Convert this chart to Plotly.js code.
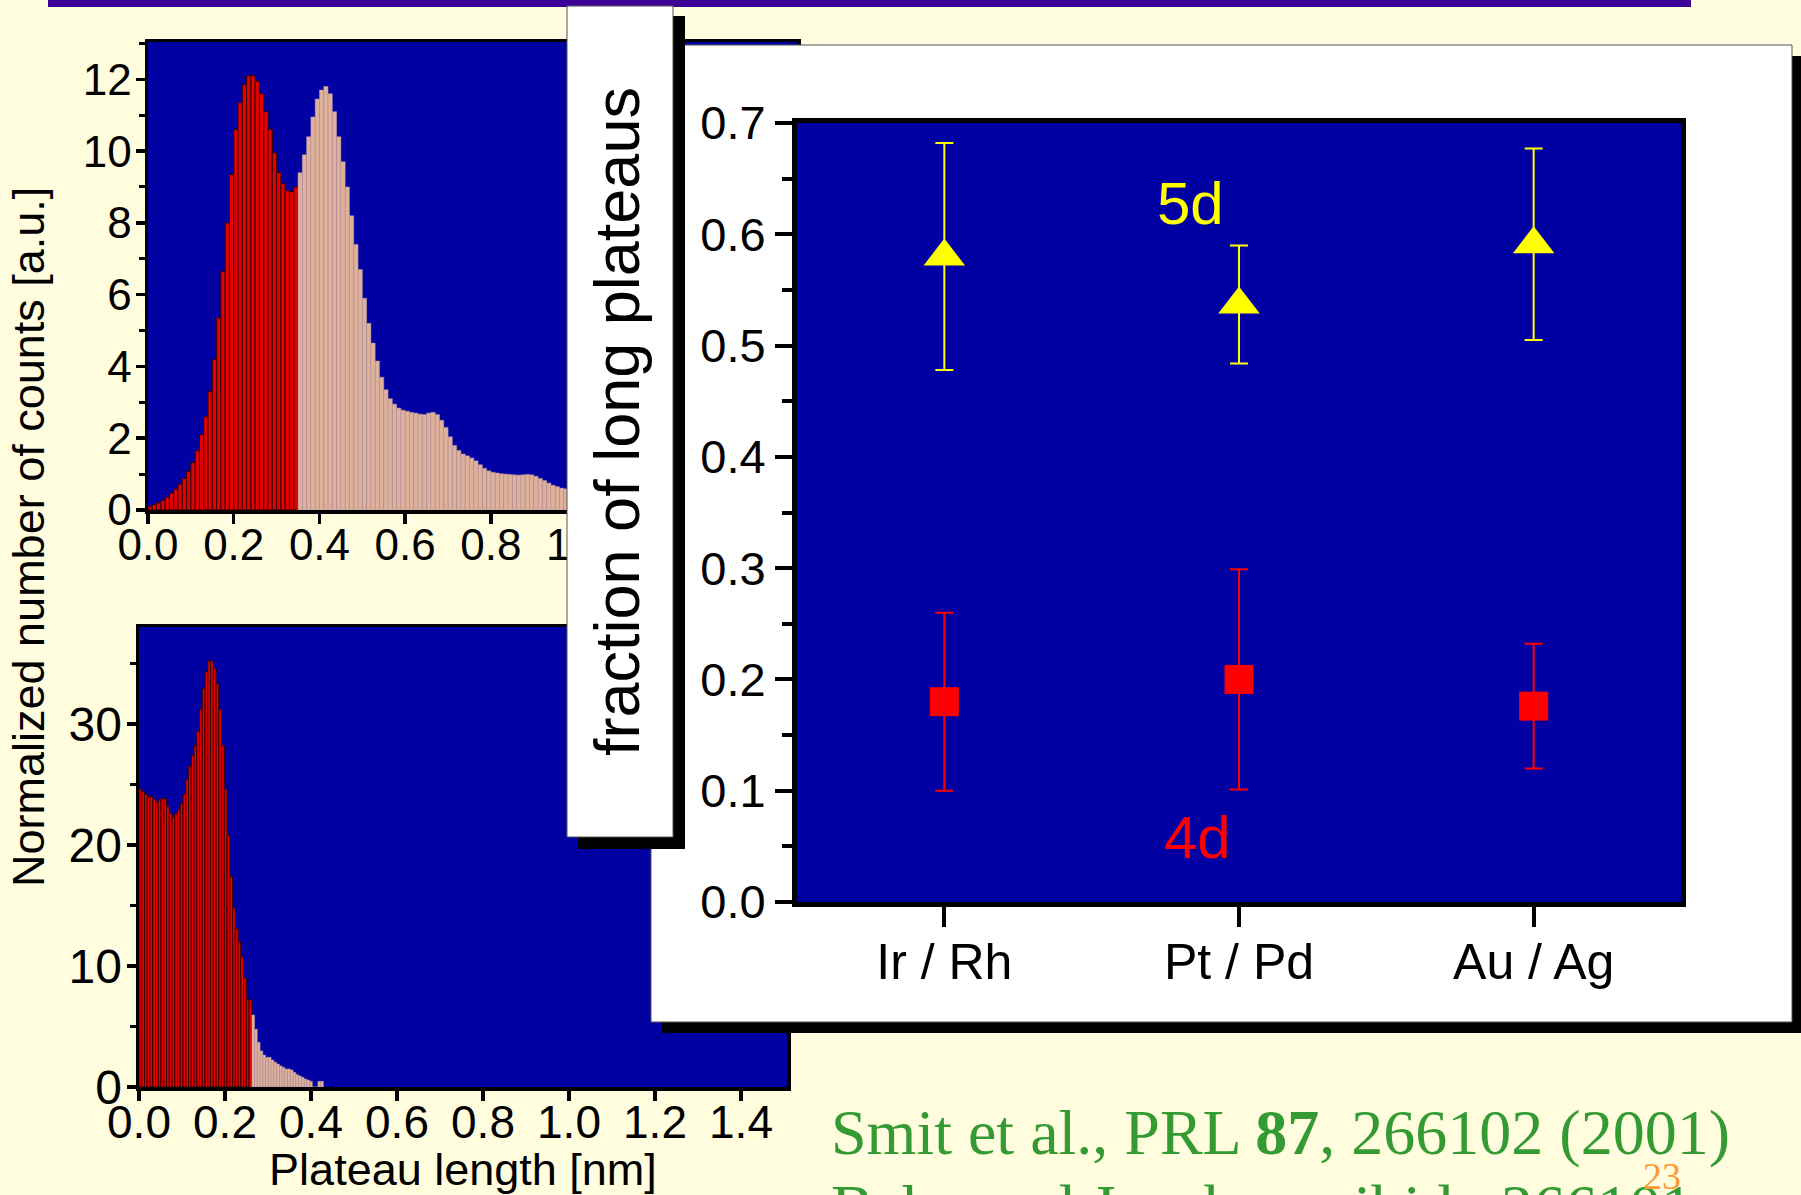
<!DOCTYPE html>
<html>
<head>
<meta charset="utf-8">
<script src="https://cdn.plot.ly/plotly-3.0.1.min.js"></script>
<style>
  html, body { margin: 0; padding: 0; background: #FFFDDE; }
  #wrap { position: relative; width: 1801px; height: 1195px; overflow: hidden; background: #FFFDDE; }
  .layer { position: absolute; left: 0; top: 0; width: 1801px; height: 1195px; }
</style>
</head>
<body>
<div id="wrap">
  <div id="hist" class="layer"></div>
  <div id="frac" class="layer"></div>
</div>
<script>
// ---------- plateau-length histograms ----------
// upper panel: 5d metal, bins of 0.01 nm starting at 0
const topBinWidth = 0.01;
const topShort = [0.1, 0.15, 0.2, 0.27, 0.36, 0.47, 0.58, 0.72, 0.88, 1.08,
  1.32, 1.65, 2.1, 2.6, 3.3, 4.2, 5.35, 6.65, 8.0, 9.35,
  10.6, 11.35, 11.85, 12.1, 12.1, 11.95, 11.6, 11.1, 10.6, 9.95,
  9.4, 9.1, 8.9, 8.87, 9.0];
const topLong = [9.4, 9.9, 10.4, 10.95, 11.45, 11.7, 11.8, 11.6, 11.1, 10.4,
  9.7, 9.0, 8.2, 7.4, 6.7, 5.9, 5.2, 4.65, 4.15, 3.7,
  3.35, 3.1, 2.95, 2.84, 2.78, 2.75, 2.72, 2.7, 2.67, 2.66,
  2.7, 2.72, 2.66, 2.5, 2.3, 2.04, 1.8, 1.66, 1.56, 1.51,
  1.45, 1.37, 1.26, 1.16, 1.09, 1.05, 1.03, 1.01, 1.0, 0.99,
  0.98, 0.97, 0.98, 0.99, 0.98, 0.94, 0.88, 0.82, 0.75, 0.69,
  0.65, 0.61, 0.59, 0.57, 0.55];

// lower panel: 4d metal, bins of 0.0064 nm starting at 0
const botBinWidth = 0.0064;
const botShort = [24.6, 24.4, 24.2, 24.0, 24.0, 23.8, 23.55, 23.7, 23.86, 23.8,
  23.2, 22.6, 22.3, 22.6, 22.9, 23.4, 24.2, 25.4, 26.5, 27.4,
  28.2, 29.4, 31.2, 32.9, 34.3, 35.2, 35.2, 34.6, 33.3, 31.2,
  28.2, 24.6, 20.8, 17.4, 14.8, 13.1, 12.0, 10.8, 9.0, 7.2,
  7.2];
const botLong = [5.95, 4.77, 3.69, 2.98, 2.64, 2.45, 2.45, 2.23, 2.05, 1.9,
  1.74, 1.63, 1.49, 1.49, 1.4, 1.21, 1.02, 0.91, 0.8, 0.66,
  0.58, 0.47, 0, 0, 0.47, 0.47];

// ---------- fraction of long plateaus ----------
const pairs = ['Ir / Rh', 'Pt / Pd', 'Au / Ag'];
const frac5d = [0.58, 0.537, 0.591];
const err5d = [0.102, 0.053, 0.086];
const frac4d = [0.18, 0.20, 0.176];
const err4d = [0.08, 0.099, 0.056];

// ---------- page geometry helpers (pixel -> paper) ----------
const W = 1801, H = 1195;
const px = v => v / W;
const py = v => 1 - v / H;

const sans = 'Arial, "Liberation Sans", Helvetica, sans-serif';
const serif = '"Times New Roman", "Liberation Serif", Times, serif';
const cream = '#FFFDDE';
const navy = '#0000A3';

function binCenters(startIndex, n, w) {
  return Array.from({ length: n }, (_, i) => +((startIndex + i + 0.5) * w).toFixed(6));
}

const shortStyle = { color: '#E20000', line: { color: '#3A0000', width: 1 } };
const longStyle = { color: '#DEB19B', line: { color: '#B89496', width: 0.5 } };

const histTraces = [
  { type: 'bar', x: binCenters(0, topShort.length, topBinWidth), y: topShort,
    width: topBinWidth, marker: shortStyle, xaxis: 'x', yaxis: 'y', hoverinfo: 'skip' },
  { type: 'bar', x: binCenters(topShort.length, topLong.length, topBinWidth), y: topLong,
    width: topBinWidth, marker: longStyle, xaxis: 'x', yaxis: 'y', hoverinfo: 'skip' },
  { type: 'bar', x: binCenters(0, botShort.length, botBinWidth), y: botShort,
    width: botBinWidth, marker: shortStyle, xaxis: 'x2', yaxis: 'y2', hoverinfo: 'skip' },
  { type: 'bar', x: binCenters(botShort.length, botLong.length, botBinWidth), y: botLong,
    width: botBinWidth, marker: longStyle, xaxis: 'x2', yaxis: 'y2', hoverinfo: 'skip' }
];

const histAxis = {
  showgrid: false, zeroline: false, showline: true, linecolor: 'black', linewidth: 3.5,
  mirror: true, ticks: 'outside', tickcolor: 'black', tickwidth: 3.5, fixedrange: true
};
const topTicks = {
  side: 'top', ticks: 'inside', ticklen: 11, tickwidth: 3.5, tickcolor: 'black',
  showticklabels: false, showline: false, showgrid: false, zeroline: false, fixedrange: true
};

const histLayout = {
  width: W, height: H,
  margin: { l: 0, r: 0, t: 0, b: 0, pad: 0 },
  paper_bgcolor: cream, plot_bgcolor: navy,
  showlegend: false, barmode: 'overlay', bargap: 0,
  xaxis: { ...histAxis, domain: [px(148), px(797)], range: [0, 1.514], tick0: 0, dtick: 0.2,
    tickformat: '.1f', ticklen: 10, anchor: 'y', ticklabelstandoff: -16,
    tickfont: { family: sans, size: 44, color: 'black' } },
  yaxis: { ...histAxis, domain: [py(510), py(42)], range: [0, 13.04], tick0: 0, dtick: 2,
    ticklen: 9, anchor: 'x', ticklabelstandoff: -5,
    tickfont: { family: sans, size: 44, color: 'black' },
    minor: { dtick: 1, ticklen: 6, tickwidth: 3, tickcolor: 'black', ticks: 'outside' } },
  xaxis3: { ...topTicks, overlaying: 'x', anchor: 'y', range: [0, 1.514], tick0: 0, dtick: 0.2 },
  xaxis2: { ...histAxis, domain: [px(139), px(787)], range: [0, 1.507], tick0: 0, dtick: 0.2,
    tickformat: '.1f', ticklen: 10, anchor: 'y2', ticklabelstandoff: -18,
    tickfont: { family: sans, size: 46, color: 'black' },
    title: { text: 'Plateau length [nm]', font: { family: sans, size: 45, color: 'black' }, standoff: 20 } },
  yaxis2: { ...histAxis, domain: [py(1087), py(627)], range: [0, 38], tick0: 0, dtick: 10,
    ticklen: 9, anchor: 'x2', ticklabelstandoff: -5,
    tickfont: { family: sans, size: 48, color: 'black' },
    minor: { dtick: 5, ticklen: 6, tickwidth: 3, tickcolor: 'black', ticks: 'outside' } },
  xaxis4: { ...topTicks, overlaying: 'x2', anchor: 'y2', range: [0, 1.507], tick0: 0, dtick: 0.2 },
  shapes: [
    { type: 'rect', xref: 'paper', yref: 'paper', x0: px(48), x1: px(1691), y0: py(7), y1: 1,
      fillcolor: '#3C0096', line: { width: 0 }, layer: 'above' }
  ],
  annotations: [
    { text: 'Normalized number of counts [a.u.]', xref: 'paper', yref: 'paper',
      x: px(29), y: py(537), xanchor: 'center', yanchor: 'middle', textangle: -90, showarrow: false,
      font: { family: sans, size: 45, color: 'black' } },
    { text: 'Smit et al., PRL <b>87</b>, 266102 (2001)', xref: 'paper', yref: 'paper',
      x: px(829), y: py(1132), xanchor: 'left', yanchor: 'middle', showarrow: false,
      font: { family: serif, size: 64, color: '#349A34' } },
    { text: 'Bahn and Jacobsen, ibid., 266101', xref: 'paper', yref: 'paper',
      x: px(829), y: py(1207), xanchor: 'left', yanchor: 'middle', showarrow: false,
      font: { family: serif, size: 64, color: '#349A34' } },
    { text: '23', xref: 'paper', yref: 'paper', x: px(1662), y: py(1176),
      xanchor: 'center', yanchor: 'middle', showarrow: false,
      font: { family: serif, size: 38, color: '#FF9933' } }
  ]
};

// ---------- fraction chart ----------
const fracTraces = [
  { type: 'scatter', mode: 'markers', name: '5d', x: pairs, y: frac5d,
    error_y: { type: 'data', array: err5d, visible: true, color: '#FFFF00', thickness: 2, width: 9 },
    marker: { symbol: 'triangle-up', size: 36, color: '#FFFF00', line: { width: 0 } },
    cliponaxis: false, hoverinfo: 'skip' },
  { type: 'scatter', mode: 'markers', name: '4d', x: pairs, y: frac4d,
    error_y: { type: 'data', array: err4d, visible: true, color: '#FF0000', thickness: 2, width: 9 },
    marker: { symbol: 'square', size: 29, color: '#FF0000', line: { width: 0 } },
    cliponaxis: false, hoverinfo: 'skip' }
];

const fracAxis = {
  showgrid: false, zeroline: false, showline: true, linecolor: 'black', linewidth: 5,
  mirror: true, ticks: 'outside', tickcolor: 'black', tickwidth: 4, fixedrange: true
};

const fracLayout = {
  width: W, height: H,
  margin: { l: 0, r: 0, t: 0, b: 0, pad: 0 },
  paper_bgcolor: 'rgba(0,0,0,0)', plot_bgcolor: 'rgba(0,0,0,0)',
  showlegend: false,
  xaxis: { ...fracAxis, type: 'category', categoryarray: pairs, domain: [px(797), px(1681)],
    range: [-0.5, 2.5], ticklen: 20, anchor: 'y', ticklabelstandoff: -8,
    tickfont: { family: sans, size: 50, color: 'black' } },
  yaxis: { ...fracAxis, domain: [py(902), py(123)], range: [0, 0.7], tick0: 0, dtick: 0.1,
    tickformat: '.1f', ticklen: 17, anchor: 'x',
    tickfont: { family: sans, size: 47, color: 'black' },
    minor: { dtick: 0.05, ticklen: 10, tickwidth: 4, tickcolor: 'black', ticks: 'outside' } },
  xaxis2: { overlaying: 'x', anchor: 'y', side: 'top', type: 'linear', range: [-0.5, 2.5],
    tickvals: [0, 1, 2], ticks: 'inside', ticklen: 20, tickwidth: 4, tickcolor: 'black',
    showticklabels: false, showline: false, showgrid: false, zeroline: false, fixedrange: true },
  yaxis2: { overlaying: 'y', anchor: 'x', side: 'right', range: [0, 0.7], tick0: 0, dtick: 0.1,
    ticks: 'inside', ticklen: 18, tickwidth: 4, tickcolor: 'black',
    minor: { dtick: 0.05, ticklen: 11, tickwidth: 4, tickcolor: 'black', ticks: 'inside' },
    showticklabels: false, showline: false, showgrid: false, zeroline: false, fixedrange: true },
  shapes: [
    // framed panel with drop shadow
    { type: 'rect', xref: 'paper', yref: 'paper', x0: px(662), x1: px(1805), y0: py(1033), y1: py(56),
      fillcolor: 'black', line: { width: 0 }, layer: 'below' },
    { type: 'rect', xref: 'paper', yref: 'paper', x0: px(651), x1: px(1792), y0: py(1022), y1: py(45),
      fillcolor: 'white', line: { color: '#555555', width: 1 }, layer: 'below' },
    { type: 'rect', xref: 'x domain', yref: 'y domain', x0: 0, x1: 1, y0: 0, y1: 1,
      fillcolor: navy, line: { width: 0 }, layer: 'below' },
    // boxed axis label with drop shadow
    { type: 'rect', xref: 'paper', yref: 'paper', x0: px(578), x1: px(685), y0: py(849), y1: py(16),
      fillcolor: 'black', line: { width: 0 }, layer: 'above' },
    { type: 'rect', xref: 'paper', yref: 'paper', x0: px(567), x1: px(673), y0: py(837), y1: py(6),
      fillcolor: 'white', line: { color: '#555555', width: 1 }, layer: 'above' }
  ],
  annotations: [
    { text: 'fraction of long plateaus', xref: 'paper', yref: 'paper',
      x: px(617), y: py(422), xanchor: 'center', yanchor: 'middle', textangle: -90, showarrow: false,
      font: { family: sans, size: 63, color: 'black' } },
    { text: '5d', xref: 'paper', yref: 'paper', x: px(1190), y: py(203), showarrow: false,
      xanchor: 'center', yanchor: 'middle', font: { family: sans, size: 60, color: '#FFFF00' } },
    { text: '4d', xref: 'paper', yref: 'paper', x: px(1197), y: py(837), showarrow: false,
      xanchor: 'center', yanchor: 'middle', font: { family: sans, size: 60, color: '#FF0000' } }
  ]
};

const cfg = { displayModeBar: false, staticPlot: true };
Plotly.newPlot('hist', histTraces, histLayout, cfg);
Plotly.newPlot('frac', fracTraces, fracLayout, cfg);
</script>
</body>
</html>
